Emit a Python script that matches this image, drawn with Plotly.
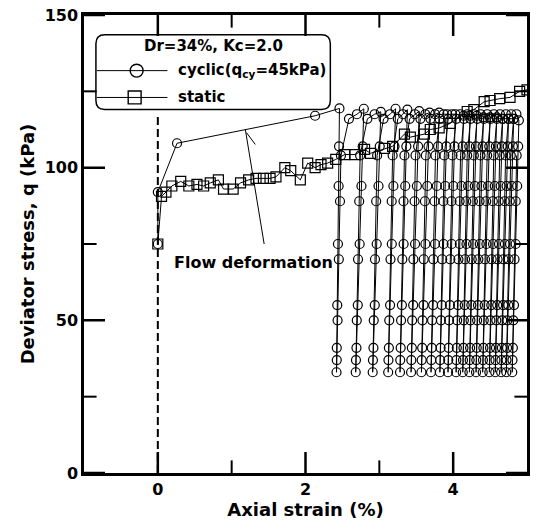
import plotly.graph_objects as go

# ---------------- data ----------------
static_strain = [0.0, 0.05, 0.11, 0.19, 0.31, 0.42, 0.53, 0.62, 0.71, 0.82, 0.89, 1.02, 1.12,
                 1.23, 1.33, 1.43, 1.52, 1.60, 1.72, 1.80, 1.93, 2.03, 2.13, 2.21, 2.30, 2.41,
                 2.53, 2.67, 2.80, 2.88, 3.07, 3.18, 3.34, 3.42, 3.61, 3.69, 3.81, 3.96, 4.19,
                 4.28, 4.42, 4.50, 4.63, 4.77, 4.90, 5.0]
static_q = [75, 90.6, 92, 94, 95.5, 94, 94.5, 94, 95, 96, 93, 93, 95,
            96, 96.5, 96.5, 96.5, 97, 100, 99, 96, 101.5, 100, 101, 101.5, 102.7,
            104.3, 104.3, 106, 104.7, 106.3, 107, 111, 110, 111, 112.5, 113, 114.5, 118.4,
            119, 121.6, 122, 122.6, 123, 125, 125.5]

# monotonic loading part of the cyclic test before cycling
cyc_pre_strain = [0.0, 0.0, 0.26, 2.13]
cyc_pre_q = [75, 92, 108, 117]

# cyclic loops: peak of each cycle, strain at the bottom of each cycle
peak_strain = [2.46, 2.79, 3.02, 3.22, 3.38, 3.54, 3.68, 3.81, 3.92, 4.03,
               4.14, 4.23, 4.32, 4.41, 4.50, 4.59, 4.67, 4.75, 4.82, 4.89]
peak_q = [119.4, 119.3, 118.3, 119.3, 119.0, 118.5, 118.0, 118.0, 117.5, 117.5,
          117.0, 117.0, 117.0, 116.5, 116.5, 116.5, 116.0, 116.0, 116.0, 115.5]
bottom_strain = [2.42, 2.68, 2.91, 3.12, 3.28, 3.43, 3.57, 3.70, 3.82, 3.93,
                 4.04, 4.13, 4.22, 4.31, 4.40, 4.49, 4.57, 4.65, 4.72, 4.80]
bottom_q = 33
down_levels = [107, 94, 75, 55, 41, 33]     # unloading readings within a cycle
up_levels = [37, 50, 70, 89, 104]           # reloading readings within a cycle
arc_levels = [116, 117.5]                   # readings bending toward next peak
arc_frac = [0.35, 0.7]
reload_shift = 0.06

x_range = [-1, 5]
y_range = [0, 150]
x_major = [0, 2, 4]
x_minor = [1, 3]
y_major = [0, 50, 100, 150]
y_minor = [25, 75, 125]

legend_title = "Dr=34%, Kc=2.0"
name_cyclic = "cyclic(q<sub>cy</sub>=45kPa)"
name_static = "static"

# ---------------- build cyclic path ----------------
cx = list(cyc_pre_strain)
cq = list(cyc_pre_q)
n = len(peak_strain)
for i in range(n):
    p, b, pq = peak_strain[i], bottom_strain[i], peak_q[i]
    cx.append(p); cq.append(pq)
    for q in down_levels:
        cx.append(b + (p - b) * (q - bottom_q) / (pq - bottom_q)); cq.append(q)
    for q in up_levels:
        cx.append(b + reload_shift * (q - bottom_q) / (up_levels[-1] - bottom_q)); cq.append(q)
    if i + 1 < n:
        x0 = b + reload_shift
        for q, f in zip(arc_levels, arc_frac):
            cx.append(x0 + (peak_strain[i + 1] - x0) * f); cq.append(q)

FONT = "DejaVu Sans"
BLACK = "black"

W, H = 536, 530
ML, MR, MT, MB = 84, 6, 12, 57
PW, PH = W - ML - MR, H - MT - MB


def px(x):  # pixel x -> paper
    return (x - ML) / PW


def py(y):  # pixel y -> paper
    return (H - MB - y) / PH


fig = go.Figure()
fig.add_trace(go.Scatter(
    x=static_strain, y=static_q, mode="lines+markers", name=name_static,
    line=dict(color=BLACK, width=1),
    marker=dict(symbol="square-open", size=10, color=BLACK, line=dict(width=1.2, color=BLACK)),
    showlegend=False))
fig.add_trace(go.Scatter(
    x=cx, y=cq, mode="lines+markers", name="cyclic",
    line=dict(color=BLACK, width=1),
    marker=dict(symbol="circle-open", size=9, color=BLACK, line=dict(width=1.2, color=BLACK)),
    showlegend=False))

# inward tick marks: line-shaped markers centred on the frame; the outer half is clipped
MAJ, MIN = 15, 9
for vals, size, w in [(x_major, 2 * MAJ, 2.5), (x_minor, 2 * MIN, 2)]:
    fig.add_trace(go.Scatter(
        x=vals + vals, y=[y_range[0]] * len(vals) + [y_range[1]] * len(vals),
        mode="markers", cliponaxis=True, hoverinfo="skip", showlegend=False,
        marker=dict(symbol="line-ns", size=size, color=BLACK,
                    line=dict(width=w, color=BLACK))))
for vals, size, w in [(y_major, 2 * MAJ, 2.5), (y_minor, 2 * MIN, 2)]:
    fig.add_trace(go.Scatter(
        x=[x_range[0]] * len(vals) + [x_range[1]] * len(vals), y=vals + vals,
        mode="markers", cliponaxis=True, hoverinfo="skip", showlegend=False,
        marker=dict(symbol="line-ew", size=size, color=BLACK,
                    line=dict(width=w, color=BLACK))))

# ---- manual legend box (paper coords) ----
L_LEFT, L_RIGHT, L_TOP, L_BOT, R = 96, 332, 32, 107, 9
def P(x, y):
    return f"{px(x):.5f},{py(y):.5f}"
path = (f"M {P(L_LEFT+R, L_TOP)} L {P(L_RIGHT-R, L_TOP)} Q {P(L_RIGHT, L_TOP)} {P(L_RIGHT, L_TOP+R)} "
        f"L {P(L_RIGHT, L_BOT-R)} Q {P(L_RIGHT, L_BOT)} {P(L_RIGHT-R, L_BOT)} "
        f"L {P(L_LEFT+R, L_BOT)} Q {P(L_LEFT, L_BOT)} {P(L_LEFT, L_BOT-R)} "
        f"L {P(L_LEFT, L_TOP+R)} Q {P(L_LEFT, L_TOP)} {P(L_LEFT+R, L_TOP)} Z")

shapes = [
    dict(type="path", xref="paper", yref="paper", path=path, fillcolor="white",
         line=dict(color=BLACK, width=1.5), layer="below"),
    dict(type="line", xref="x", yref="y", x0=0, x1=0, y0=0, y1=117,
         line=dict(color=BLACK, width=2, dash="8px,4px")),
    dict(type="line", xref="x", yref="y", x0=1.185, y0=112.5, x1=1.44, y1=75,
         line=dict(color=BLACK, width=1)),
    dict(type="line", xref="x", yref="y", x0=1.2, y0=111.5, x1=1.32, y1=107.6,
         line=dict(color=BLACK, width=1)),
]
# legend sample lines and symbols
for yy, kind, xm in [(68, "circle", 137), (95, "rect", 135)]:
    shapes.append(dict(type="line", xref="paper", yref="paper",
                       x0=px(L_LEFT + 1), x1=px(168), y0=py(yy), y1=py(yy),
                       line=dict(color=BLACK, width=1)))
    shapes.append(dict(type=kind, xref="paper", yref="paper",
                       x0=px(xm - 6.5), x1=px(xm + 6.5), y0=py(yy + 6.5), y1=py(yy - 6.5),
                       line=dict(color=BLACK, width=1.4)))

axis_common = dict(
    showline=True, linewidth=2.5, linecolor=BLACK, mirror=True,
    ticks="", showgrid=False, zeroline=False,
    tickfont=dict(family=FONT, size=16, color=BLACK, weight="bold"),
)

fig.update_layout(
    width=W, height=H,
    margin=dict(l=ML, r=MR, t=MT, b=MB),
    paper_bgcolor="white", plot_bgcolor="white",
    xaxis=dict(range=x_range, tickmode="array", tickvals=x_major,
               ticktext=[str(v) for v in x_major],
               title=dict(text="Axial strain (%)", standoff=2,
                          font=dict(family=FONT, size=18, color=BLACK, weight="bold")),
               **axis_common),
    yaxis=dict(range=y_range, tickmode="array", tickvals=y_major,
               ticktext=[str(v) for v in y_major],
               title=dict(text="Deviator stress, q (kPa)", standoff=6,
                          font=dict(family=FONT, size=18, color=BLACK, weight="bold")),
               **axis_common),
    shapes=shapes,
    annotations=[
        dict(x=1.29, y=68.8, xref="x", yref="y", text="Flow deformation", showarrow=False,
             font=dict(family=FONT, size=16, color=BLACK, weight="bold")),
        dict(x=px(214), y=py(43), xref="paper", yref="paper", text=legend_title, showarrow=False,
             xanchor="center", yanchor="middle",
             font=dict(family=FONT, size=15, color=BLACK, weight="bold")),
        dict(x=px(177), y=py(68), xref="paper", yref="paper", text=name_cyclic, showarrow=False,
             xanchor="left", yanchor="middle",
             font=dict(family=FONT, size=15, color=BLACK, weight="bold")),
        dict(x=px(177), y=py(95), xref="paper", yref="paper", text=name_static, showarrow=False,
             xanchor="left", yanchor="middle",
             font=dict(family=FONT, size=15, color=BLACK, weight="bold")),
    ],
    showlegend=False,
)

fig.write_html("out.html")
